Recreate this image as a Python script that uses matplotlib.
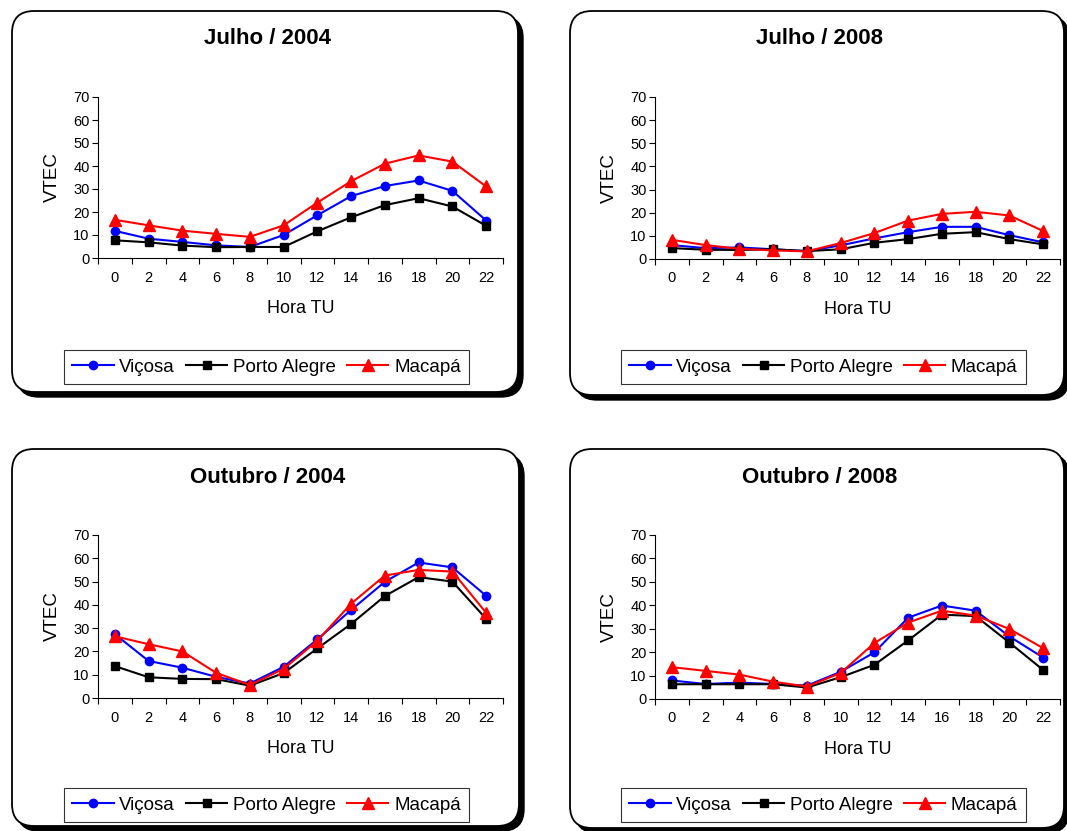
import matplotlib
matplotlib.use("Agg")
import matplotlib.pyplot as plt
from matplotlib.patches import FancyBboxPatch
from matplotlib.transforms import IdentityTransform

plt.rcParams['font.family'] = ['Liberation Sans', 'DejaVu Sans']

# dados (VTEC por hora TU)
horas = [0, 2, 4, 6, 8, 10, 12, 14, 16, 18, 20, 22]
estacoes = ['Viçosa', 'Porto Alegre', 'Macapá']
titulos = ['Julho / 2004', 'Julho / 2008', 'Outubro / 2004', 'Outubro / 2008']

jul04_vicosa = [11.8, 8.4, 7.0, 5.5, 4.8, 10.0, 18.6, 26.9, 31.3, 33.7, 29.2, 16.3]
jul04_porto = [7.7, 6.8, 5.4, 4.7, 4.8, 4.8, 11.6, 17.7, 23.0, 26.0, 22.4, 14.0]
jul04_macapa = [16.6, 14.2, 11.9, 10.5, 9.2, 14.2, 24.1, 33.4, 41.0, 44.6, 41.9, 31.1]

jul08_vicosa = [6.0, 4.7, 5.0, 4.2, 3.4, 5.9, 8.9, 11.6, 13.9, 13.9, 10.3, 7.2]
jul08_porto = [4.7, 4.0, 3.9, 4.2, 3.4, 4.2, 7.0, 8.6, 10.9, 11.6, 8.6, 6.3]
jul08_macapa = [8.3, 6.0, 4.4, 3.7, 3.3, 6.9, 11.2, 16.6, 19.5, 20.4, 18.8, 12.1]

out04_vicosa = [27.4, 15.9, 13.0, 9.1, 6.2, 13.4, 25.2, 37.8, 49.9, 58.2, 56.1, 43.9]
out04_porto = [13.7, 8.9, 8.2, 8.1, 5.3, 10.7, 21.3, 31.8, 43.8, 51.9, 50.0, 34.0]
out04_macapa = [26.5, 23.1, 20.0, 10.8, 5.6, 12.5, 24.6, 40.5, 52.6, 55.0, 54.3, 36.6]

out08_vicosa = [7.9, 6.4, 7.0, 6.4, 5.7, 11.6, 19.9, 34.7, 39.9, 37.7, 26.7, 17.7]
out08_porto = [6.3, 6.3, 6.3, 6.3, 4.9, 9.3, 14.6, 25.0, 36.0, 35.4, 24.1, 12.4]
out08_macapa = [13.6, 12.0, 10.4, 7.4, 5.3, 11.1, 23.9, 32.6, 37.7, 35.6, 29.9, 21.7]

dados = [
    [jul04_vicosa, jul04_porto, jul04_macapa],
    [jul08_vicosa, jul08_porto, jul08_macapa],
    [out04_vicosa, out04_porto, out04_macapa],
    [out08_vicosa, out08_porto, out08_macapa],
]

W, H = 1067, 831
fig = plt.figure(figsize=(W / 100, H / 100), dpi=100)

# caixa do painel: (esq, topo, dir, base) em pixels da imagem
caixas = [(12, 11, 518, 392), (570, 11, 1064, 395), (12, 449, 519, 826), (570, 449, 1064, 828)]
# area do grafico: (esq, topo, dir, base)
areas = [(98, 97, 503, 258), (655, 97, 1060, 259), (98, 535, 503, 698), (655, 535, 1060, 699)]

cores = ['#0000ff', '#000000', '#ff0000']
marcas = ['o', 's', '^']
tamanhos = [6, 6, 8]

for i in range(4):
    l, t, r, b = caixas[i]
    sombra = FancyBboxPatch((l + 5, H - b - 5), r - l, b - t,
                            boxstyle="round,pad=0,rounding_size=22",
                            facecolor='black', edgecolor='black', lw=1,
                            transform=IdentityTransform(), zorder=0)
    caixa = FancyBboxPatch((l, H - b), r - l, b - t,
                           boxstyle="round,pad=0,rounding_size=22",
                           facecolor='white', edgecolor='black', lw=1.3,
                           transform=IdentityTransform(), zorder=1)
    fig.add_artist(sombra)
    fig.add_artist(caixa)

    al, at, ar, ab = areas[i]
    ax = fig.add_axes([al / W, (H - ab) / H, (ar - al) / W, (ab - at) / H])
    ax.set_zorder(2)
    ax.patch.set_alpha(0)

    x = range(len(horas))
    for s in range(3):
        ax.plot(x, dados[i][s], color=cores[s], marker=marcas[s], markersize=tamanhos[s],
                lw=1.5, label=estacoes[s], clip_on=False)

    ax.set_xlim(-0.5, len(horas) - 0.5)
    ax.set_ylim(0, 70)
    ax.set_yticks(range(0, 71, 10))
    ax.set_xticks([k - 0.5 for k in range(len(horas) + 1)])
    ax.set_xticklabels([])
    ax.set_xticks(list(x), minor=True)
    ax.set_xticklabels([str(h) for h in horas], minor=True)
    ax.tick_params(axis='x', which='major', length=4, width=0.8, direction='out')
    ax.tick_params(axis='x', which='minor', length=0, pad=9, labelsize=10.5)
    ax.tick_params(axis='y', length=4, width=0.8, labelsize=10.5, pad=2)
    for sp in ['top', 'right']:
        ax.spines[sp].set_visible(False)
    ax.spines['left'].set_linewidth(0.8)
    ax.spines['bottom'].set_linewidth(0.8)
    ax.set_ylabel('VTEC', fontsize=13.5, labelpad=9)
    ax.set_xlabel('Hora TU', fontsize=13, labelpad=11)

    fig.text((l + r) / 2 / W + 0.002, 1 - (t + 28) / H, titulos[i], fontsize=16,
             fontweight='bold', ha='center', va='center', zorder=3)

    leg = ax.legend(loc='center', bbox_to_anchor=((al - 35 + 407 / 2) / W, 1 - 367 / H - (caixas[i][1] - 11) / H),
                    bbox_transform=fig.transFigure, ncol=3, fontsize=13.5, frameon=True,
                    fancybox=False, edgecolor='black', handlelength=2.2,
                    handletextpad=0.3, columnspacing=0.6, borderpad=0.45)
    leg.get_frame().set_linewidth(0.8)

fig.savefig('out.png', dpi=100)
